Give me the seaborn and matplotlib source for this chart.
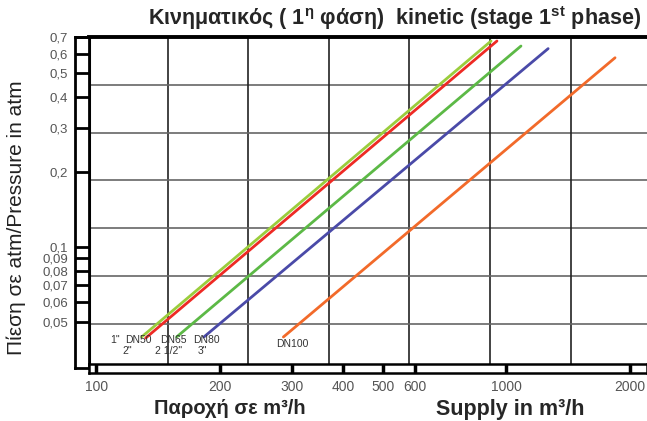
import matplotlib
matplotlib.use('Agg')
import matplotlib.pyplot as plt
import seaborn as sns
import pandas as pd

# series (flow m3/h, pressure atm) at start and end of each line
sizes = ['1"', 'DN50', 'DN65', 'DN80', 'DN100']
flow_start = [129, 132, 157, 183, 286]
flow_end = [918, 949, 1086, 1265, 1842]
p_start = [0.0436, 0.0432, 0.0436, 0.0436, 0.0436]
p_end = [0.665, 0.665, 0.635, 0.62, 0.57]
colors = ['#9acd3c', '#ee2a24', '#5cb946', '#4a4aa8', '#f26a2a']

x_ticks = [100, 200, 300, 400, 500, 600, 1000, 2000]
y_ticks = [0.05, 0.06, 0.07, 0.08, 0.09, 0.1, 0.2, 0.3, 0.4, 0.5, 0.6, 0.7]
y_tick_labels = ['0,05', '0,06', '0,07', '0,08', '0,09', '0,1', '0,2', '0,3', '0,4', '0,5', '0,6', '0,7']

# small labels under the line starts: (text, flow, pressure)
line_labels = [('1"', 111, 0.0425), ('DN50', 127, 0.0425), ('DN65', 154, 0.0425),
               ('DN80', 186, 0.0425), ('2"', 119, 0.0384), ('2 1/2"', 150, 0.0384),
               ('3"', 181, 0.0384), ('DN100', 300, 0.0409)]

rows = []
for name, x0, x1, y0, y1 in zip(sizes, flow_start, flow_end, p_start, p_end):
    rows.append({'size': name, 'flow': x0, 'pressure': y0})
    rows.append({'size': name, 'flow': x1, 'pressure': y1})
df = pd.DataFrame(rows)

sns.set_style('white')
plt.rcParams['font.family'] = ['Liberation Sans', 'DejaVu Sans']
plt.rcParams['mathtext.fontset'] = 'custom'
plt.rcParams['mathtext.rm'] = 'Liberation Sans'
plt.rcParams['mathtext.bf'] = 'Liberation Sans:bold'

W, H = 647, 421
fig = plt.figure(figsize=(W / 100, H / 100), dpi=100)
fig.patch.set_facecolor('white')

def box(x0, y0, x1, y1):
    return [x0 / W, 1 - y1 / H, (x1 - x0) / W, (y1 - y0) / H]

xlim = (96.0, 2204)
ylim = (0.034, 0.69)

# uniform printed grid (not tied to the data values)
gax = fig.add_axes(box(89, 37, 647, 364))
gax.set_xlim(0.02, 6.95)
gax.set_ylim(6.84, 0)
for k in range(1, 7):
    gax.axvline(k, color='#222222', lw=1.2)
    gax.axhline(k, color='#666666', lw=1.2)
gax.set_xticks([])
gax.set_yticks([])
for s in gax.spines.values():
    s.set_visible(False)

ax = fig.add_axes(box(89, 37, 647, 364))
ax.patch.set_alpha(0)
sns.lineplot(data=df, x='flow', y='pressure', hue='size', palette=dict(zip(sizes, colors)),
             lw=2, legend=False, ax=ax)
ax.set_xscale('log')
ax.set_yscale('log')
ax.set_xlim(*xlim)
ax.set_ylim(*ylim)
ax.set_xticks([])
ax.set_yticks([])
ax.minorticks_off()
ax.set_xlabel('')
ax.set_ylabel('')
for side in ['right', 'bottom']:
    ax.spines[side].set_visible(False)
ax.spines['left'].set_linewidth(2.2)
ax.spines['top'].set_linewidth(2.8)
for s in ax.spines.values():
    s.set_color('black')

for txt, fx, py in line_labels:
    ax.text(fx, py, txt, fontsize=7.5, color='#333333', ha='center', va='center')

# left double-line strip with tick boxes
lax = fig.add_axes(box(75, 37, 89, 368))
lax.set_yscale('log')
lax.set_ylim(0.0325, ylim[1])
lax.set_xlim(0, 1)
lax.set_xticks([])
lax.set_yticks(y_ticks)
lax.set_yticklabels(y_tick_labels)
lax.minorticks_off()
lax.tick_params(axis='y', left=True, direction='in', length=10, width=2, pad=5,
                labelsize=9.5, labelcolor='#555555', color='black')
for s in lax.spines.values():
    s.set_linewidth(2)
    s.set_color('black')

# bottom double-line strip with tick marks
bax = fig.add_axes(box(89, 364, 647, 373))
bax.set_xscale('log')
bax.set_xlim(*xlim)
bax.set_ylim(0, 1)
bax.set_yticks([])
bax.set_xticks(x_ticks)
bax.set_xticklabels([str(v) for v in x_ticks])
bax.minorticks_off()
bax.tick_params(axis='x', bottom=True, direction='in', length=6.5, width=2.5, pad=5,
                labelsize=10, labelcolor='#555555', color='black')
for s in bax.spines.values():
    s.set_linewidth(1.8)
    s.set_color('black')

fig.text(395 / W, 1 - 18 / H,
         'Κινηματικός ( 1$^{\\mathbf{η}}$ φάση)  kinetic (stage 1$^{\\mathbf{st}}$ phase)',
         ha='center', va='center', fontsize=15.5, fontweight='bold')
fig.text(230 / W, 1 - 409 / H, 'Παροχή σε m³/h', ha='center', va='center',
         fontsize=14.5, fontweight='bold')
fig.text(510 / W, 1 - 409 / H, 'Supply in m³/h', ha='center', va='center',
         fontsize=15.5, fontweight='bold')
fig.text(16 / W, 1 - 218 / H, 'Πίεση σε atm/Pressure in atm', ha='center', va='center',
         rotation=90, fontsize=15, color='#222222')

fig.savefig('out.png', dpi=100)
